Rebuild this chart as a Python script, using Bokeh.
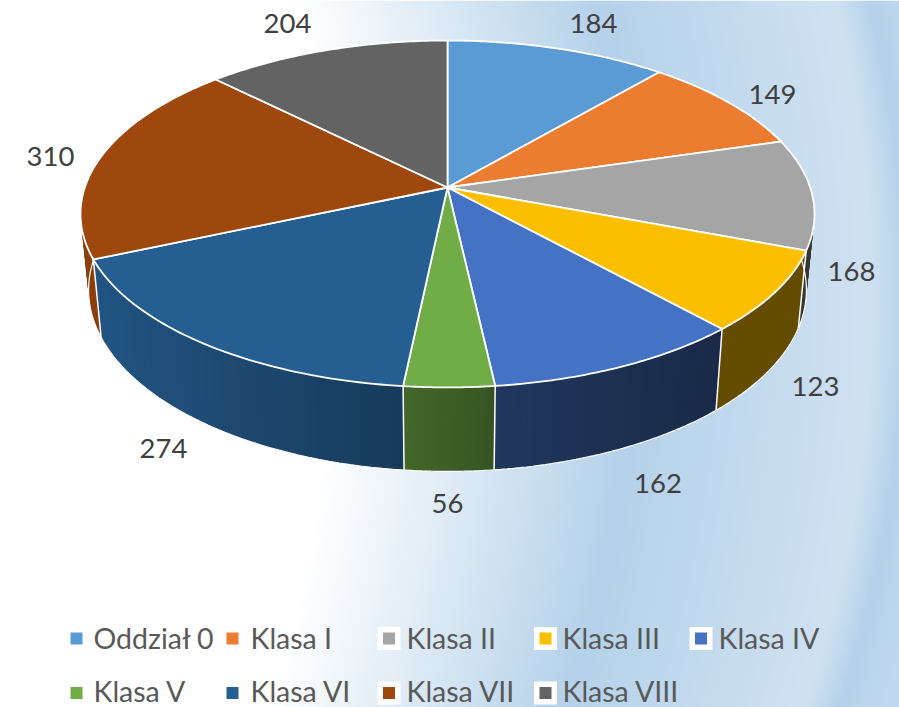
import numpy as np
from bokeh.plotting import figure
from bokeh.models import Range1d
from bokeh.core.properties import value
from bokeh.embed import file_html
from bokeh.resources import INLINE

# ---------- data ----------
categories = ["Oddział 0", "Klasa I", "Klasa II", "Klasa III", "Klasa IV",
              "Klasa V", "Klasa VI", "Klasa VII", "Klasa VIII"]
values = [184, 149, 168, 123, 162, 56, 274, 310, 204]

# ---------- styles / layout ----------
colors = ["#5B9BD5", "#EC7C30", "#A5A5A5", "#FBBF00", "#4472C4",
          "#70AD47", "#255E91", "#9E480E", "#636363"]
shade_start = [0.6, 0.6, 0.33, 0.40, 0.48, 0.60, 0.90, 0.88, 0.6]
shade_end = [0.6, 0.6, 0.33, 0.40, 0.37, 0.49, 0.62, 0.88, 0.6]
label_x = [593, 772, 851, 815, 657.5, 447, 163, 50, 287]
label_y = [23, 94, 271, 386, 483, 503, 448, 156, 23]
legend_mark_x = [76, 232, 388.5, 545, 700.5, 76, 232, 388.5, 545]
legend_text_x = [93, 250, 406, 562, 718, 93, 250, 406, 562]
legend_y = [637] * 5 + [690.5] * 4
legend_mark_y = [638] * 5 + [692.5] * 4
legend_halo = [False, False, True, True, True, False, False, True, True]

W, H = 899, 707
CX, CY = 447.0, 187.0      # apex of the pie on screen
AX, BY, K = 362.7, 169.4, 0.1526  # perspective of the top disc
BOT_SX, BOT_FRONT, BOT_SY, TOP_FRONT = 0.978, 471.0, 1.047, 387.0


def sy(y):
    return H - np.asarray(y, dtype=float)


def top_xy(theta):
    u, v = np.sin(theta), np.cos(theta)
    d = 1 + K * v
    return CX + AX * u / d, CY - BY * v / d


def bottom_xy(theta):
    x, y = top_xy(theta)
    return CX + BOT_SX * (x - CX), BOT_FRONT - BOT_SY * (TOP_FRONT - y)


def rgb(hexcol):
    return np.array([int(hexcol[i:i + 2], 16) for i in (1, 3, 5)], dtype=float)


def to_hex(c):
    return "#%02x%02x%02x" % tuple(int(round(min(255, max(0, a)))) for a in c)


p = figure(width=W, height=H, x_range=Range1d(0, W), y_range=Range1d(0, H),
           x_axis_type=None, y_axis_type=None, toolbar_location=None,
           output_backend="svg", min_border=0, outline_line_color=None,
           background_fill_color="#ffffff", border_fill_color="#ffffff")
p.grid.visible = False

# ---------- background wash ----------
yy, xx = np.mgrid[0:H, 0:W]
screen_y = H - yy - 0.5
t = xx + 4.0e-4 * (screen_y - 300) ** 2
stops_t = [0, 335, 630, 870, 905, 945, 1200]
stops_rgb = [(255, 255, 255), (255, 255, 255), (181, 210, 234), (208, 226, 242),
             (181, 210, 234), (192, 216, 238), (192, 216, 238)]
r = np.interp(t, stops_t, [s[0] for s in stops_rgb])
g = np.interp(t, stops_t, [s[1] for s in stops_rgb])
b = np.interp(t, stops_t, [s[2] for s in stops_rgb])
img = np.empty(xx.shape, dtype=np.uint32)
view = img.view(dtype=np.uint8).reshape((xx.shape[0], xx.shape[1], 4))
view[..., 0], view[..., 1], view[..., 2], view[..., 3] = r, g, b, 255
p.image_rgba(image=[img], x=0, y=0, dw=W, dh=H)

# ---------- angles from the values ----------
total = float(sum(values))
edges = 2 * np.pi * np.concatenate([[0], np.cumsum(values)]) / total

# ---------- walls (drawn first; the top disc hides what is behind) ----------
N = 40
for i in range(len(values)):
    th = np.linspace(edges[i], edges[i + 1], N + 1)
    xt, yt = top_xy(th)
    xb, yb = bottom_xy(th)
    base = rgb(colors[i])
    xs, ys, cols = [], [], []
    xl, xr = min(xt[0], xt[-1]), max(xt[0], xt[-1])
    for j in range(N):
        k = min(j + 2, N)   # overlap the next strip so no seams show
        xs.append(list(xt[j:k + 1]) + list(xb[j:k + 1][::-1]))
        ys.append(list(sy(yt[j:k + 1])) + list(sy(yb[j:k + 1][::-1])))
        f = (0.5 * (xt[j] + xt[j + 1]) - xl) / max(xr - xl, 1)
        cols.append(to_hex(base * (shade_start[i] + (shade_end[i] - shade_start[i]) * f)))
    p.patches(xs, ys, fill_color=cols, line_color=None)

for i in range(len(values)):
    th = np.linspace(edges[i], edges[i + 1], 41)
    xb, yb = bottom_xy(th)
    xt0, yt0 = top_xy(edges[i])
    xb0, yb0 = bottom_xy(edges[i])
    if np.cos(edges[i]) < 0.55:
        p.line([xt0, xb0], sy([yt0, yb0]), line_color="#ffffff", line_width=1.5)
    p.line(xb, sy(yb), line_color="#ffffff", line_width=1.2)

# ---------- top disc ----------
for i in range(len(values)):
    th = np.linspace(edges[i], edges[i + 1], 61)
    xt, yt = top_xy(th)
    px = np.concatenate([[CX], xt])
    py = np.concatenate([[CY], yt])
    p.patch(px, sy(py), fill_color=colors[i], line_color="#ffffff", line_width=1.8,
            line_join="round")

# ---------- value labels ----------
p.text(x=label_x, y=sy(label_y), text=[str(v) for v in values],
       text_font=value("Lato"), text_font_size="27.5px", text_color="#404040",
       text_align="center", text_baseline="middle")

# ---------- legend ----------
halo_x = [x for x, h in zip(legend_mark_x, legend_halo) if h]
halo_y = [y for y, h in zip(legend_mark_y, legend_halo) if h]
p.scatter(halo_x, sy(halo_y), marker="square", size=23, fill_color="#ffffff",
          line_color="#ffffff", line_width=0)
p.scatter(legend_mark_x, sy(legend_mark_y), marker="square", size=12,
          fill_color=colors, line_color=colors, line_width=0)
p.text(x=legend_text_x, y=sy(legend_y), text=categories,
       text_font=value("Lato"), text_font_size="28.5px", text_color="#595959",
       text_align="left", text_baseline="middle")

open("out.html", "w").write(file_html(p, INLINE))
